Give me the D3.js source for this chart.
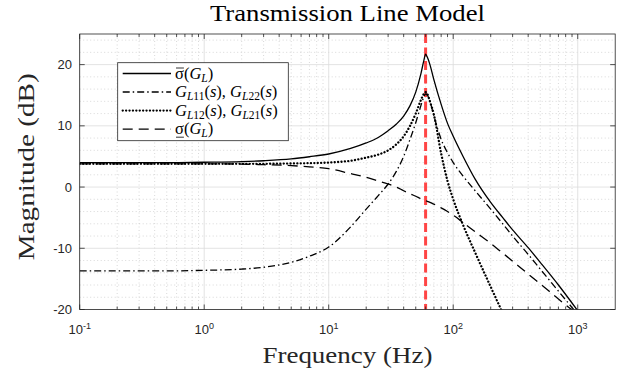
<!DOCTYPE html>
<html>
<head>
<meta charset="utf-8">
<script src="https://cdn.jsdelivr.net/npm/d3@7"></script>
<style>
  body { margin: 0; background: #fff; }
  svg { display: block; }
</style>
</head>
<body>
<div id="chart"></div>
<script>
// frequency points (Hz) and magnitudes (dB)
const freqs = [0.1, 0.2, 0.5, 1, 2, 3, 5, 7, 10, 15, 20, 25, 30, 35, 40, 45, 50, 55, 58, 60, 62, 65, 70, 80, 90, 100, 120, 150, 200, 250, 300, 400, 500, 700, 1000];

const sigmaMax = [4.0, 4.0, 4.0, 4.05, 4.15, 4.3, 4.6, 4.95, 5.4, 6.3, 7.2, 8.1, 9.2, 10.3, 11.6, 13.3, 15.5, 18.5, 20.6, 21.7, 21.2, 20.0, 17.5, 13.5, 10.4, 8.3, 5.0, 1.3, -2.5, -5.0, -7.0, -9.9, -12.3, -16.0, -20.2];

const gl11 = [-13.7, -13.7, -13.7, -13.6, -13.4, -13.1, -12.3, -11.3, -9.8, -6.5, -3.6, -1.4, 0.5, 2.6, 5.0, 7.8, 10.5, 13.3, 14.7, 15.2, 15.0, 14.0, 11.6, 7.8, 5.6, 4.0, 1.8, -0.6, -3.6, -6.0, -8.0, -11.0, -13.4, -17.0, -20.8];

const gl12Freqs = [0.1, 0.2, 0.5, 1, 2, 3, 5, 7, 10, 15, 20, 25, 30, 35, 40, 45, 50, 55, 58, 60, 62, 65, 70, 80, 90, 100, 120, 150, 200, 250];
const gl12 = [3.8, 3.8, 3.8, 3.8, 3.8, 3.8, 3.85, 3.9, 4.0, 4.3, 4.8, 5.3, 6.0, 7.0, 8.3, 10.0, 12.0, 14.2, 15.2, 15.5, 15.2, 14.0, 11.8, 5.5, 1.0, -2.0, -6.2, -10.7, -16.3, -20.6];

const sigmaMin = [3.8, 3.8, 3.8, 3.8, 3.75, 3.65, 3.5, 3.3, 3.0, 2.2, 1.6, 1.0, 0.5, 0.0, -0.6, -1.1, -1.5, -1.9, -2.1, -2.2, -2.35, -2.5, -2.8, -3.4, -4.0, -4.6, -5.8, -7.3, -9.2, -10.8, -12.1, -14.2, -15.8, -18.3, -20.8];

const resonance = 60;

const xMajor = [0.1, 1, 10, 100, 1000];
const xMajorExp = ['-1', '0', '1', '2', '3'];
const yMajor = [-20, -10, 0, 10, 20];

const legendLabels = [
  [{t: 'σ', over: true}, {t: '('}, {t: 'G', it: true}, {t: 'L', sub: true, it: true}, {t: ')'}],
  [{t: 'G', it: true}, {t: 'L', sub: true, it: true}, {t: '11', sub: true}, {t: '('}, {t: 's', it: true}, {t: '), '}, {t: 'G', it: true}, {t: 'L', sub: true, it: true}, {t: '22', sub: true}, {t: '('}, {t: 's', it: true}, {t: ')'}],
  [{t: 'G', it: true}, {t: 'L', sub: true, it: true}, {t: '12', sub: true}, {t: '('}, {t: 's', it: true}, {t: '), '}, {t: 'G', it: true}, {t: 'L', sub: true, it: true}, {t: '21', sub: true}, {t: '('}, {t: 's', it: true}, {t: ')'}],
  [{t: 'σ', under: true}, {t: '('}, {t: 'G', it: true}, {t: 'L', sub: true, it: true}, {t: ')'}]
];

const W = 629, H = 376;
const pLeft = 79.7, pRight = 615.2, pTop = 34, pBottom = 309.5;
const axisColor = '#262626';
const serif = '"Liberation Serif", "DejaVu Serif", serif';
const sans = '"Liberation Sans", Arial, sans-serif';

const svg = d3.select('#chart').append('svg')
  .attr('width', W).attr('height', H);

const x = d3.scaleLog().domain([0.1, 2000]).range([pLeft, pRight]);
const y = d3.scaleLinear().domain([-20, 25]).range([pBottom, pTop]);

// minor tick positions
const xMinor = [];
for (let e = -1; e <= 3; e++) {
  for (let k = 2; k <= 9; k++) {
    const v = k * Math.pow(10, e);
    if (v < 2000) xMinor.push(v);
  }
}
const yMinor = d3.range(-20, 25.01, 2).filter(v => v % 10 !== 0);

svg.append('defs').append('clipPath').attr('id', 'plotclip')
  .append('rect').attr('x', pLeft).attr('y', pTop)
  .attr('width', pRight - pLeft).attr('height', pBottom - pTop);

// grid
const grid = svg.append('g');
grid.selectAll('.gxm').data(xMinor).enter().append('line')
  .attr('x1', d => x(d)).attr('x2', d => x(d)).attr('y1', pTop).attr('y2', pBottom)
  .attr('stroke', '#c8c8c8').attr('stroke-width', 0.7).attr('stroke-dasharray', '1,2.5');
grid.selectAll('.gym').data(yMinor).enter().append('line')
  .attr('x1', pLeft).attr('x2', pRight).attr('y1', d => y(d)).attr('y2', d => y(d))
  .attr('stroke', '#c8c8c8').attr('stroke-width', 0.7).attr('stroke-dasharray', '1,2.5');
grid.selectAll('.gx').data(xMajor).enter().append('line')
  .attr('x1', d => x(d)).attr('x2', d => x(d)).attr('y1', pTop).attr('y2', pBottom)
  .attr('stroke', '#dcdcdc').attr('stroke-width', 0.8);
grid.selectAll('.gy').data(yMajor).enter().append('line')
  .attr('x1', pLeft).attr('x2', pRight).attr('y1', d => y(d)).attr('y2', d => y(d))
  .attr('stroke', '#dcdcdc').attr('stroke-width', 0.8);

const plot = svg.append('g').attr('clip-path', 'url(#plotclip)');

// resonance marker (under the curves)
plot.append('line')
  .attr('x1', x(resonance)).attr('x2', x(resonance))
  .attr('y1', pTop).attr('y2', pBottom)
  .attr('stroke', '#ff4545').attr('stroke-width', 3)
  .attr('stroke-dasharray', '9,4.5');

// curves
const line = d3.line().x(d => x(d[0])).y(d => y(d[1])).curve(d3.curveMonotoneX);

const series = [
  {f: freqs, v: sigmaMax, dash: null, w: 1.3, cap: 'butt'},
  {f: freqs, v: gl11, dash: '7,3,1.5,3', w: 1.3, cap: 'butt'},
  {f: gl12Freqs, v: gl12, dash: '0.1,3.3', w: 2.3, cap: 'round'},
  {f: freqs, v: sigmaMin, dash: '10,6', w: 1.3, cap: 'butt'}
];

series.forEach(s => {
  plot.append('path')
    .datum(s.f.map((f, i) => [f, s.v[i]]))
    .attr('d', line)
    .attr('fill', 'none')
    .attr('stroke', '#000')
    .attr('stroke-width', s.w)
    .attr('stroke-linecap', s.cap)
    .attr('stroke-dasharray', s.dash);
});

// axes ticks (inward)
const ax = svg.append('g').attr('stroke', axisColor).attr('stroke-width', 0.8);
xMajor.forEach(v => {
  ax.append('line').attr('x1', x(v)).attr('x2', x(v)).attr('y1', pBottom).attr('y2', pBottom - 5);
  ax.append('line').attr('x1', x(v)).attr('x2', x(v)).attr('y1', pTop).attr('y2', pTop + 5);
});
xMinor.forEach(v => {
  ax.append('line').attr('x1', x(v)).attr('x2', x(v)).attr('y1', pBottom).attr('y2', pBottom - 3);
  ax.append('line').attr('x1', x(v)).attr('x2', x(v)).attr('y1', pTop).attr('y2', pTop + 3);
});
yMajor.forEach(v => {
  ax.append('line').attr('x1', pLeft).attr('x2', pLeft + 5).attr('y1', y(v)).attr('y2', y(v));
  ax.append('line').attr('x1', pRight).attr('x2', pRight - 5).attr('y1', y(v)).attr('y2', y(v));
});
ax.append('rect').attr('x', pLeft).attr('y', pTop)
  .attr('width', pRight - pLeft).attr('height', pBottom - pTop).attr('fill', 'none');

// tick labels
const xl = svg.append('g').attr('font-family', sans).attr('fill', axisColor);
xMajor.forEach((v, i) => {
  const t = xl.append('text').attr('x', x(v)).attr('y', 334).attr('text-anchor', 'middle')
    .attr('font-size', 13);
  t.append('tspan').text('10');
  t.append('tspan').attr('dy', -5).attr('font-size', 9).text(xMajorExp[i]);
});
yMajor.forEach(v => {
  xl.append('text').attr('x', 72).attr('y', y(v) + 4.5).attr('text-anchor', 'end')
    .attr('font-size', 13).text(v);
});

// title and axis labels
svg.append('text').attr('x', (pLeft + pRight) / 2).attr('y', 21).attr('text-anchor', 'middle')
  .attr('font-family', serif).attr('font-size', 23).attr('fill', '#000')
  .attr('textLength', 275).attr('lengthAdjust', 'spacingAndGlyphs')
  .text('Transmission Line Model');
svg.append('text').attr('x', (pLeft + pRight) / 2).attr('y', 363).attr('text-anchor', 'middle')
  .attr('font-family', serif).attr('font-size', 23).attr('fill', axisColor)
  .attr('textLength', 170).attr('lengthAdjust', 'spacingAndGlyphs')
  .text('Frequency (Hz)');
svg.append('text').attr('transform', `translate(34,${(pTop + pBottom) / 2 - 5}) rotate(-90)`)
  .attr('text-anchor', 'middle')
  .attr('font-family', serif).attr('font-size', 23).attr('fill', axisColor)
  .attr('textLength', 187).attr('lengthAdjust', 'spacingAndGlyphs')
  .text('Magnitude (dB)');

// legend
const lg = svg.append('g');
lg.append('rect').attr('x', 117.7).attr('y', 62.7).attr('width', 170.6).attr('height', 78)
  .attr('fill', '#fff').attr('stroke', axisColor).attr('stroke-width', 0.8);
const rowY = [73.5, 92, 110.6, 129.2];
series.forEach((s, i) => {
  lg.append('line').attr('x1', 122.7).attr('x2', 171).attr('y1', rowY[i]).attr('y2', rowY[i])
    .attr('stroke', '#000').attr('stroke-width', s.w)
    .attr('stroke-linecap', s.cap).attr('stroke-dasharray', s.dash);
  const t = lg.append('text').attr('x', 175).attr('y', rowY[i] + 5)
    .attr('font-family', serif).attr('font-size', 16.5).attr('fill', '#000');
  legendLabels[i].forEach(p => {
    const sp = t.append('tspan').text(p.t);
    if (p.it) sp.attr('font-style', 'italic');
    if (p.sub) sp.attr('font-size', 11.5).attr('baseline-shift', '-25%');
  });
  // bar over / under sigma
  legendLabels[i].forEach(p => {
    if (p.over || p.under) {
      const ext = t.node().getExtentOfChar(0);
      const yy = p.over ? ext.y + 4.5 : ext.y + ext.height - 1;
      lg.append('line').attr('x1', ext.x + 1).attr('x2', ext.x + ext.width)
        .attr('y1', yy).attr('y2', yy).attr('stroke', '#000').attr('stroke-width', 0.8);
    }
  });
});
</script>
</body>
</html>
